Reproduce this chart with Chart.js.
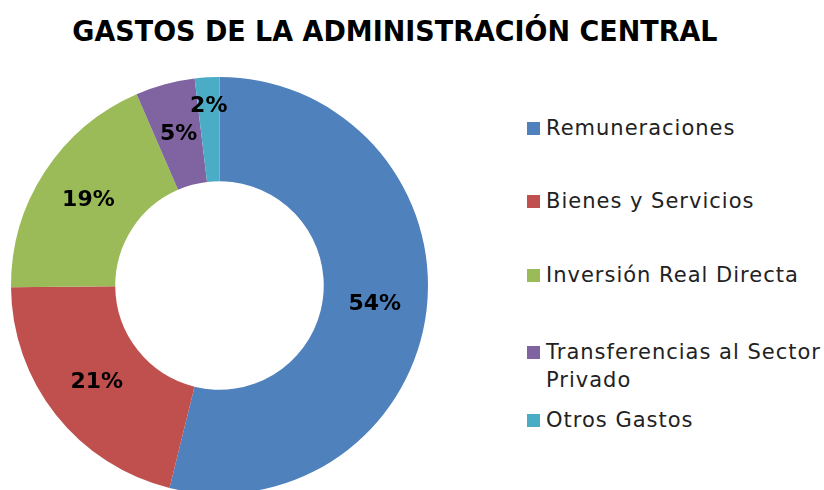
<!DOCTYPE html>
<html>
<head>
<meta charset="utf-8">
<script src="https://cdn.jsdelivr.net/npm/chart.js@4"></script>
<style>
  html, body { margin: 0; padding: 0; background: #fff; }
  body { width: 824px; height: 490px; overflow: hidden; position: relative; font-family: "DejaVu Sans", sans-serif; }
  #title { position: absolute; left: 0; width: 790px; top: 14px; text-align: center; font-weight: bold; font-size: 29px; color: #000; transform: scaleX(0.93); transform-origin: 394px 0; }
  #chartBox { position: absolute; left: 0; top: 66px; width: 439px; height: 439px; }
  #legend { position: absolute; left: 527px; top: 0; }
  .item { position: absolute; left: 0; display: flex; align-items: flex-start; font-size: 21px; letter-spacing: 1px; color: #222; line-height: 28px; white-space: nowrap; }
  .box { width: 13px; height: 13px; margin-top: 8px; margin-right: 6px; flex: none; }
</style>
</head>
<body>
<div id="title">GASTOS DE LA ADMINISTRACIÓN CENTRAL</div>
<div id="chartBox"><canvas id="myChart" width="439" height="439"></canvas></div>
<div id="legend"></div>
<script>
// data
const categories = ['Remuneraciones', 'Bienes y Servicios', 'Inversión Real Directa', 'Transferencias al Sector Privado', 'Otros Gastos'];
const legendLines = [['Remuneraciones'], ['Bienes y Servicios'], ['Inversión Real Directa'], ['Transferencias al Sector', 'Privado'], ['Otros Gastos']];
const values = [53.8, 21.0, 18.6, 4.6, 1.9];
const colors = ['#4F81BD', '#C0504D', '#9BBB59', '#8064A2', '#4BACC6'];

// percentage labels inside the ring
const pctLabels = {
  id: 'pctLabels',
  afterDatasetsDraw(chart) {
    const { ctx } = chart;
    const meta = chart.getDatasetMeta(0);
    const total = values.reduce((a, b) => a + b, 0);
    ctx.save();
    ctx.font = 'bold 22px "DejaVu Sans", sans-serif';
    ctx.fillStyle = '#000';
    ctx.textAlign = 'center';
    ctx.textBaseline = 'middle';
    meta.data.forEach((arc, i) => {
      const p = arc.getProps(['x', 'y', 'startAngle', 'endAngle', 'innerRadius', 'outerRadius'], true);
      const mid = (p.startAngle + p.endAngle) / 2;
      const share = values[i] / total;
      let r = (p.innerRadius + p.outerRadius) / 2;
      if (share < 0.03) r = p.innerRadius + (p.outerRadius - p.innerRadius) * 0.72;
      const x = p.x + Math.cos(mid) * r;
      const y = p.y + Math.sin(mid) * r;
      ctx.fillText(Math.round(share * 100) + '%', x, y);
    });
    ctx.restore();
  }
};

const ctx = document.getElementById('myChart');

new Chart(ctx, {
  type: 'doughnut',
  data: {
    labels: categories,
    datasets: [{
      data: values,
      backgroundColor: colors,
      borderWidth: 0
    }]
  },
  options: {
    responsive: false,
    animation: false,
    cutout: '50%',
    layout: { padding: 11 },
    plugins: {
      legend: { display: false },
      tooltip: { enabled: false }
    }
  },
  plugins: [pctLabels]
});

// html legend (one entry wraps to two lines)
const legendEl = document.getElementById('legend');
const legendTops = [114, 187, 261, 338, 406];
legendLines.forEach((lines, i) => {
  const item = document.createElement('div');
  item.className = 'item';
  item.style.top = legendTops[i] + 'px';
  item.innerHTML = `<span class="box" style="background:${colors[i]}"></span><span>${lines.join('<br>')}</span>`;
  legendEl.appendChild(item);
});
</script>
</body>
</html>
